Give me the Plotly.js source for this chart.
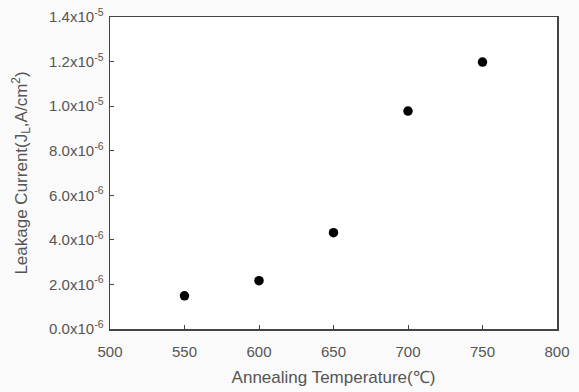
<!DOCTYPE html>
<html><head><meta charset="utf-8">
<script src="https://cdn.plot.ly/plotly-3.0.1.min.js"></script>
<style>body{margin:0;padding:0;background:#fafafa}#c{width:579px;height:392px}</style>
</head><body><div id="c"></div>
<script>
const temperatures = [550, 600, 650, 700, 750];
const leakageCurrent = [1.49e-6, 2.17e-6, 4.32e-6, 9.78e-6, 1.198e-5];
const yTickVals = [0, 2e-6, 4e-6, 6e-6, 8e-6, 1.0e-5, 1.2e-5, 1.4e-5];
const yTickText = ['0.0x10<sup>-6</sup>','2.0x10<sup>-6</sup>','4.0x10<sup>-6</sup>','6.0x10<sup>-6</sup>','8.0x10<sup>-6</sup>','1.0x10<sup>-5</sup>','1.2x10<sup>-5</sup>','1.4x10<sup>-5</sup>'];
const xTickVals = [500, 550, 600, 650, 700, 750, 800];

const font = {family: 'Liberation Sans, Arial, sans-serif', size: 15, color: '#555'};
Plotly.newPlot('c', [{
  x: temperatures, y: leakageCurrent, type: 'scatter', mode: 'markers',
  marker: {symbol: 'circle', size: 9.5, color: '#000'}
}], {
  width: 579, height: 392,
  margin: {l: 110, r: 22, t: 17, b: 63},
  paper_bgcolor: '#fafafa', plot_bgcolor: '#fff',
  font: font, showlegend: false,
  xaxis: {range: [500, 800], tickvals: xTickVals, ticks: 'inside', ticklen: 4,
    showline: true, mirror: true, linecolor: '#444', linewidth: 1.5, tickcolor: '#444',
    showgrid: false, zeroline: false, ticklabelstandoff: 8,
    title: {text: 'Annealing Temperature(℃)', font: {size: 17, color: '#555'}, standoff: 12}},
  yaxis: {range: [0, 1.4e-5], tickvals: yTickVals, ticktext: yTickText, ticks: 'inside', ticklen: 4,
    showline: true, mirror: true, linecolor: '#444', linewidth: 1.5, tickcolor: '#444',
    showgrid: false, zeroline: false, ticklabelstandoff: 2,
    title: {text: 'Leakage Current(J<sub>L</sub>,A/cm<sup>2</sup>)', font: {size: 17, color: '#555'}, standoff: 17}}
}, {displayModeBar: false, staticPlot: true});
</script></body></html>
